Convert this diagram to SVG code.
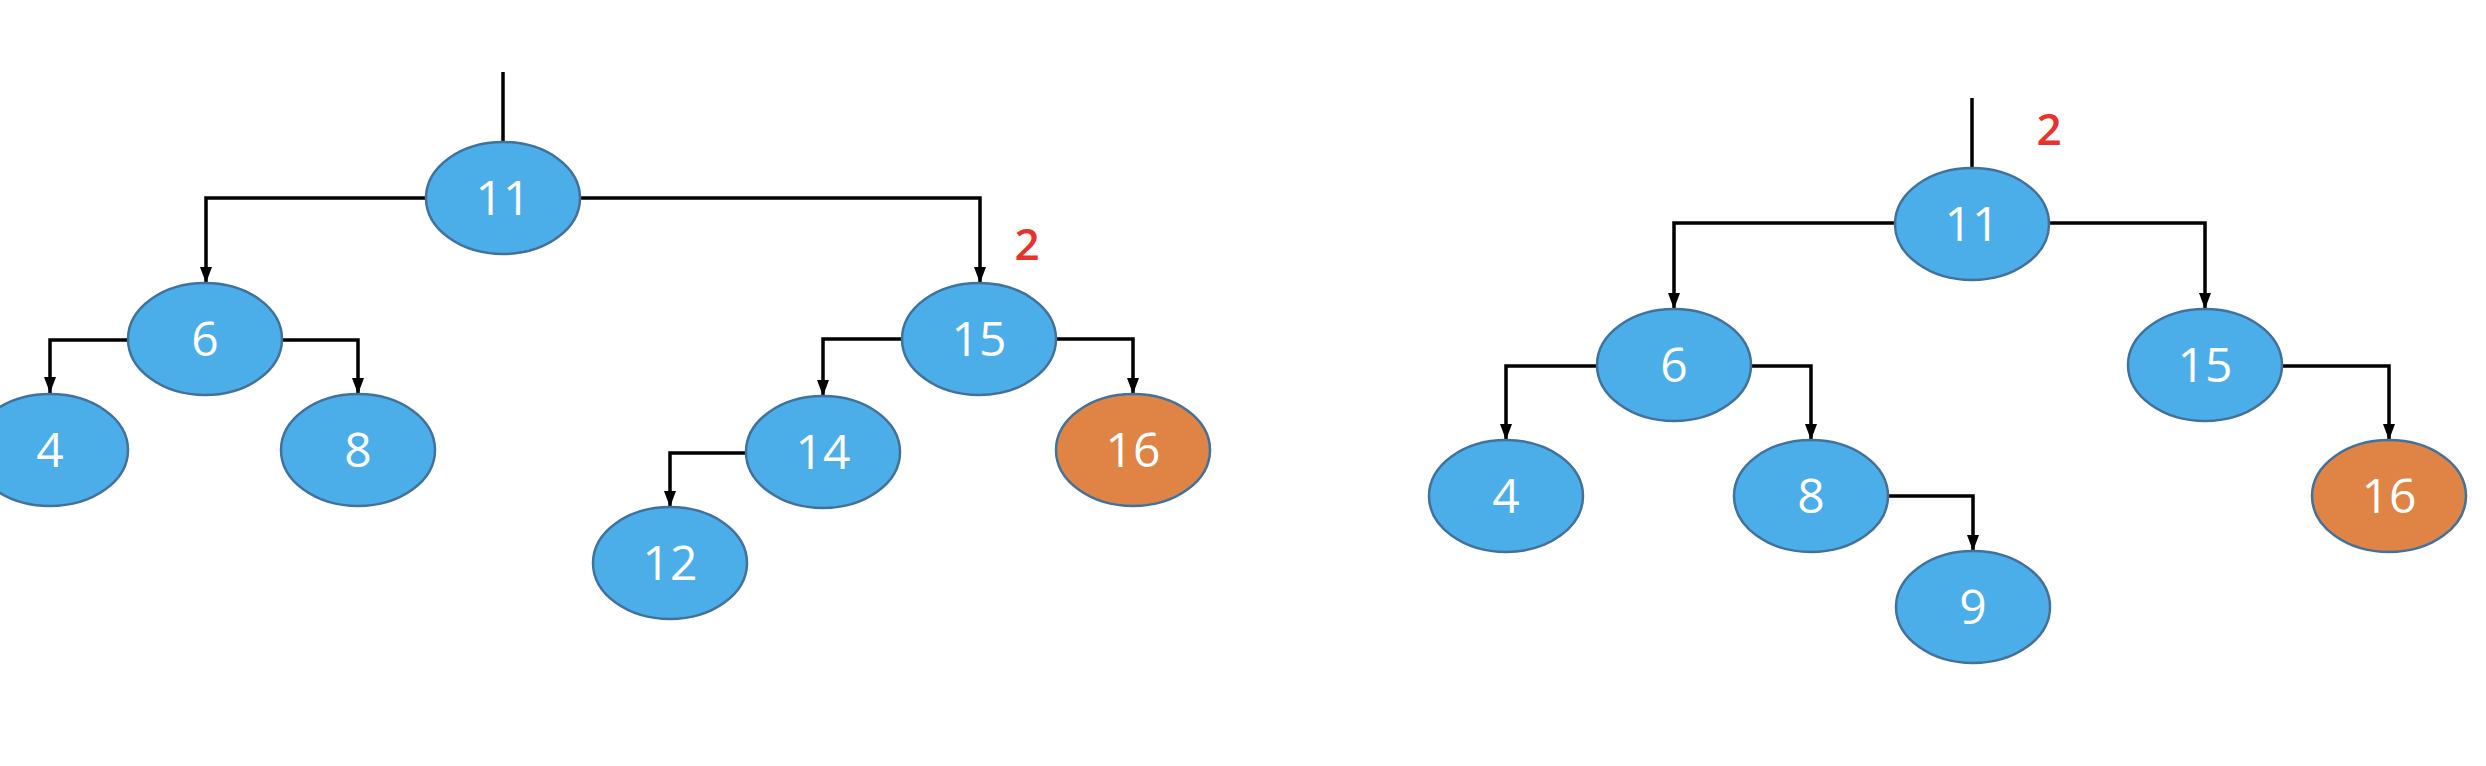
<svg xmlns="http://www.w3.org/2000/svg" width="2486" height="766" viewBox="0 0 2486 766">
<defs>
<marker id="ah" viewBox="0 0 16 12" refX="16" refY="6" markerWidth="16" markerHeight="12" markerUnits="userSpaceOnUse" orient="auto">
<path d="M0,0 L16,6 L0,12 Z" fill="#000"/>
</marker>
<style>
.n{fill:#4BAEE8;stroke:#41719C;stroke-width:2.5}
.o{fill:#DF8445;stroke:#41719C;stroke-width:2.5}
.t{fill:#fff;font-family:"Open Sans","Liberation Sans",sans-serif;font-size:48px;text-anchor:middle}
.c{fill:none;stroke:#000;stroke-width:3.5}
.a{marker-end:url(#ah)}
.r{fill:#E8332A;font-family:"Open Sans","Liberation Sans",sans-serif;font-size:44px;font-weight:600;text-anchor:middle}
</style>
</defs>
<rect width="2486" height="766" fill="#fff"/>
<g id="connectors">
<path class="c" d="M503,72 V142"/>
<path class="c a" d="M426,198 H206 V283"/>
<path class="c a" d="M581,198 H980 V283"/>
<path class="c a" d="M128,340 H50 V393"/>
<path class="c a" d="M282,340 H358 V394"/>
<path class="c a" d="M902,339 H823 V396"/>
<path class="c a" d="M1057,339 H1133 V394"/>
<path class="c a" d="M746,453 H670 V507"/>
<path class="c" d="M1972,98 V168"/>
<path class="c a" d="M1895,223 H1674 V309"/>
<path class="c a" d="M2049,223 H2205 V309"/>
<path class="c a" d="M1597,366 H1506 V440"/>
<path class="c a" d="M1751,366 H1811 V440"/>
<path class="c a" d="M2282,366 H2389 V440"/>
<path class="c a" d="M1888,496 H1973 V551"/>
</g>
<text class="r" x="1027" y="260">2</text>
<text class="r" x="2049" y="145">2</text>
<g id="L11"><ellipse class="n" cx="503" cy="198" rx="77" ry="56"/><text class="t" x="503" y="215">11</text></g>
<g id="L6"><ellipse class="n" cx="205" cy="339" rx="77" ry="56"/><text class="t" x="205" y="356">6</text></g>
<g id="L15"><ellipse class="n" cx="979" cy="339" rx="77" ry="56"/><text class="t" x="979" y="356">15</text></g>
<g id="L4"><ellipse class="n" cx="50" cy="450" rx="78" ry="56"/><text class="t" x="50" y="467">4</text></g>
<g id="L8"><ellipse class="n" cx="358" cy="450" rx="77" ry="56"/><text class="t" x="358" y="467">8</text></g>
<g id="L14"><ellipse class="n" cx="823" cy="452" rx="77" ry="56"/><text class="t" x="823" y="469">14</text></g>
<g id="L16"><ellipse class="o" cx="1133" cy="450" rx="77" ry="56"/><text class="t" x="1133" y="467">16</text></g>
<g id="L12"><ellipse class="n" cx="670" cy="563" rx="77" ry="56"/><text class="t" x="670" y="580">12</text></g>
<g id="R11"><ellipse class="n" cx="1972" cy="224" rx="77" ry="56"/><text class="t" x="1972" y="241">11</text></g>
<g id="R6"><ellipse class="n" cx="1674" cy="365" rx="77" ry="56"/><text class="t" x="1674" y="382">6</text></g>
<g id="R15"><ellipse class="n" cx="2205" cy="365" rx="77" ry="56"/><text class="t" x="2205" y="382">15</text></g>
<g id="R4"><ellipse class="n" cx="1506" cy="496" rx="77" ry="56"/><text class="t" x="1506" y="513">4</text></g>
<g id="R8"><ellipse class="n" cx="1811" cy="496" rx="77" ry="56"/><text class="t" x="1811" y="513">8</text></g>
<g id="R16"><ellipse class="o" cx="2389" cy="496" rx="77" ry="56"/><text class="t" x="2389" y="513">16</text></g>
<g id="R9"><ellipse class="n" cx="1973" cy="607" rx="77" ry="56"/><text class="t" x="1973" y="624">9</text></g>
</svg>
